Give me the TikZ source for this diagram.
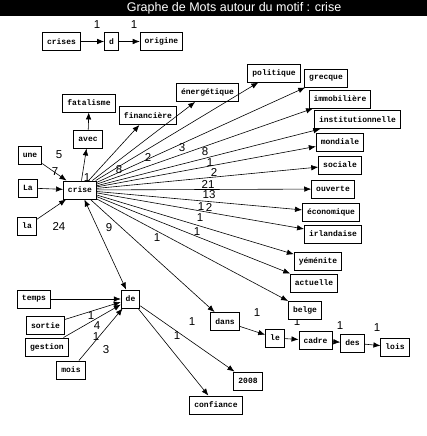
\documentclass[tikz,border=0pt]{standalone}
\usepackage{fontspec}
\setmainfont{Liberation Sans}
\newfontfamily\wordfont{Liberation Mono}
\usepackage{tikz}
\usetikzlibrary{arrows.meta}
\tikzset{link/.style = {->,> = {Latex[length=7pt,width=5.5pt]}}}

\begin{document}
\begin{tikzpicture}[x=1pt,y=-1pt,line width=0.6pt,
    word/.style={rectangle,draw,fill=white,line width=0.9pt,font=\wordfont\bfseries\fontsize{8}{9}\selectfont,inner xsep=4.5pt,inner ysep=0pt,minimum height=18pt},
    count/.style={font=\fontsize{11.5}{12}\selectfont,inner sep=0pt}]
                \useasboundingbox (0,0) rectangle (427,436);
                \fill[black] (0,0) rectangle (427,16);
                \node[text=white,font=\fontsize{12.5}{13}\selectfont] (title) at (234,8) {Graphe de Mots autour du motif : crise};

                % counts
                \node[count] (c1) at (97,25) {1};
                \node[count] (c2) at (134,25) {1};
                \node[count] (c3) at (59,155) {5};
                \node[count] (c4) at (55,172) {7};
                \node[count] (c5) at (59,226) {24};
                \node[count] (c6) at (109,228) {9};
                \node[count] (c7) at (157,238) {1};
                \node[count] (c8) at (87,178) {1};
                \node[count] (c9) at (119,170) {8};
                \node[count] (c10) at (148,157) {2};
                \node[count] (c11) at (182,148) {3};
                \node[count] (c12) at (205,152) {8};
                \node[count] (c13) at (210,162.5) {1};
                \node[count] (c14) at (214,172.5) {2};
                \node[count] (c15) at (208,184) {21};
                \node[count] (c16) at (209,195) {13};
                \node[count] (c17) at (201,207) {1};
                \node[count] (c18) at (209,207) {2};
                \node[count] (c19) at (200,218) {1};
                \node[count] (c20) at (197,232) {1};
                \node[count] (c21) at (257,313) {1};
                \node[count] (c22) at (297,321.5) {1};
                \node[count] (c23) at (340,326) {1};
                \node[count] (c24) at (377,328) {1};
                \node[count] (c25) at (192,322) {1};
                \node[count] (c26) at (177,336) {1};
                \node[count] (c27) at (91,316) {1};
                \node[count] (c28) at (97,326) {4};
                \node[count] (c29) at (96,337) {1};
                \node[count] (c30) at (106,350) {3};

                % words
                \node[word] (crises) at (61.5,41.5) {crises};
                \node[word] (d) at (111.5,41.5) {d};
                \node[word] (origine) at (161.5,41.5) {origine};

                \node[word] (crise) at (80,190) {crise};
                \node[word] (une) at (30,155) {une};
                \node[word] (La) at (28,188) {La};
                \node[word] (la) at (27,226) {la};
                \node[word] (fatalisme) at (89,103) {fatalisme};
                \node[word] (avec) at (88,139) {avec};
                \node[word] (financiere) at (148,115.5) {financière};
                \node[word] (energetique) at (207.5,92.5) {énergétique};
                \node[word] (politique) at (274,73) {politique};
                \node[word] (grecque) at (326,78) {grecque};
                \node[word] (immobiliere) at (340,99) {immobilière};
                \node[word] (institutionnelle) at (357.5,119.5) {institutionnelle};
                \node[word] (mondiale) at (340,142) {mondiale};
                \node[word] (sociale) at (340,165) {sociale};
                \node[word] (ouverte) at (333,189) {ouverte};
                \node[word] (economique) at (331,212.5) {économique};
                \node[word] (irlandaise) at (333,234) {irlandaise};
                \node[word] (yemenite) at (318,261.5) {yéménite};
                \node[word] (actuelle) at (314,283) {actuelle};
                \node[word] (belge) at (305,310) {belge};

                \node[word] (de) at (130.5,299) {de};
                \node[word] (temps) at (34,299) {temps};
                \node[word] (sortie) at (45.5,325.5) {sortie};
                \node[word] (gestion) at (47,347) {gestion};
                \node[word] (mois) at (71,370) {mois};
                \node[word] (dans) at (225,321.5) {dans};
                \node[word] (le) at (275,338) {le};
                \node[word] (cadre) at (315.5,340.5) {cadre};
                \node[word] (des) at (352.5,343) {des};
                \node[word] (lois) at (395,347) {lois};
                \node[word] (annee) at (248,381) {2008};
                \node[word] (confiance) at (216,405) {confiance};

                % links
                \path[link] (crises) edge (d);
                \path[link] (d) edge (origine);
                \path[link] (avec) edge (fatalisme);
                \path[link] (une) edge (crise);
                \path[link] (La) edge (crise);
                \path[link] (la) edge (crise);
                \path[link] (crise) edge (avec);
                \path[link] (crise) edge (financiere);
                \path[link] (crise) edge (energetique);
                \path[link] (crise) edge (politique);
                \path[link] (crise) edge (grecque);
                \path[link] (crise) edge (immobiliere);
                \path[link] (crise) edge (institutionnelle);
                \path[link] (crise) edge (mondiale);
                \path[link] (crise) edge (sociale);
                \path[link] (crise) edge (ouverte);
                \path[link] (crise) edge (economique);
                \path[link] (crise) edge (irlandaise);
                \path[link] (crise) edge (yemenite);
                \path[link] (crise) edge (actuelle);
                \path[link] (crise) edge (belge);
                \path[link] (crise) edge (dans);
                \path[link,<->] (crise) edge (de);
                \path[link] (temps) edge (de);
                \path[link] (sortie) edge (de);
                \path[link] (gestion) edge (de);
                \path[link] (mois) edge (de);
                \path[link] (de) edge (annee);
                \path[link] (de) edge (confiance);
                \path[link] (dans) edge (le);
                \path[link] (le) edge (cadre);
                \path[link] (cadre) edge (des);
                \path[link] (des) edge (lois);
            \end{tikzpicture}
\end{document}
